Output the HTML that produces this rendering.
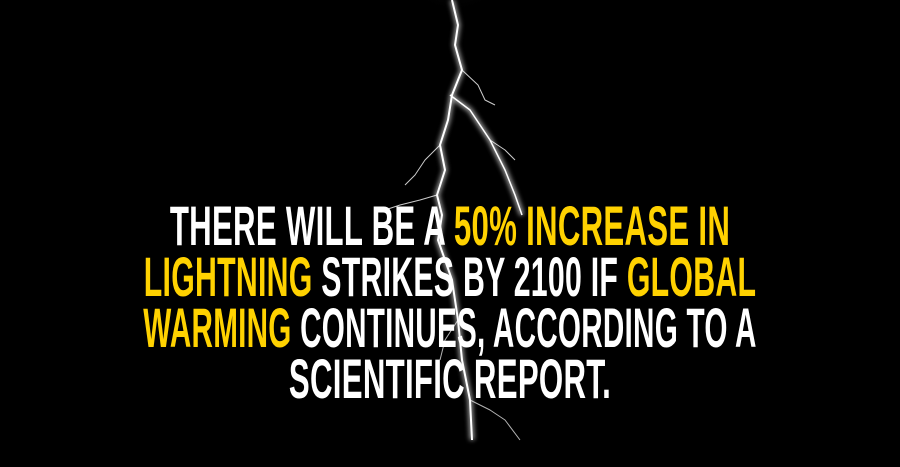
<!DOCTYPE html>
<html><head><meta charset="utf-8">
<style>
html,body{margin:0;padding:0;background:#000;}
#wrap{position:relative;width:900px;height:467px;overflow:hidden;background:#000;}
svg{position:absolute;left:0;top:0;}
#text{position:absolute;left:-300px;top:200px;width:1500px;text-align:center;
 font-family:"Liberation Sans",sans-serif;font-weight:bold;
 font-size:56px;line-height:51px;color:#fff;letter-spacing:0.5px;
 transform:scaleX(0.557);transform-origin:750px 0;}
.line{display:block;white-space:nowrap;}
.y{color:#ffd200;}
#l2{transform:scaleX(0.97);}
#l3{transform:scaleX(0.95);}
</style></head>
<body>
<div id="wrap">
<svg width="900" height="467">
<defs>
<radialGradient id="g" cx="50%" cy="0%" r="60%">
<stop offset="0" stop-color="#fff" stop-opacity="0.75"/>
<stop offset="0.4" stop-color="#888" stop-opacity="0.25"/>
<stop offset="1" stop-color="#000" stop-opacity="0"/>
</radialGradient>
<filter id="glow"><feGaussianBlur stdDeviation="2.5"/></filter>
</defs>
<ellipse cx="455" cy="0" rx="60" ry="70" fill="url(#g)"/>
<g stroke="#fff" fill="none" stroke-linejoin="round">
<g filter="url(#glow)" stroke-width="5" opacity="0.6">
<polyline points="452,0 458,25 455,45 462,70 452,95 448,120 440,145 445,170 437,195 442,215 438,240 452,280 458,320 462,360 470,400 472,440"/>
<polyline points="450,95 470,110 490,140 505,170 515,195 522,215"/>
</g>
<polyline stroke-width="2" points="452,0 458,25 455,45 462,70 452,95 448,120 440,145 445,170 437,195 442,215 438,240 452,280 458,320 462,360 470,400 472,440"/>
<polyline stroke-width="1.5" points="450,95 470,110 490,140 505,170 515,195 522,215"/>
<polyline stroke-width="1" opacity="0.8" points="462,70 478,85 485,100 495,105"/>
<polyline stroke-width="1" opacity="0.8" points="440,145 425,160 415,175 405,185"/>
<polyline stroke-width="1" opacity="0.8" points="437,195 420,200 400,205 385,210"/>
<polyline stroke-width="1" opacity="0.8" points="490,140 505,150 515,160"/>
<polyline stroke-width="1" opacity="0.7" points="470,400 490,410 505,420 520,440"/>
<polyline stroke-width="1" opacity="0.7" points="458,320 445,340 440,360"/>
</g>
</svg>
<div id="text">
<span class="line">THERE WILL BE A <span class="y">50% INCREASE IN</span></span>
<span class="line" id="l2"><span class="y">LIGHTNING</span> STRIKES BY 2100 IF <span class="y">GLOBAL</span></span>
<span class="line" id="l3"><span class="y">WARMING</span> CONTINUES, ACCORDING TO A</span>
<span class="line">SCIENTIFIC REPORT.</span>
</div>
</div>
</body></html>
